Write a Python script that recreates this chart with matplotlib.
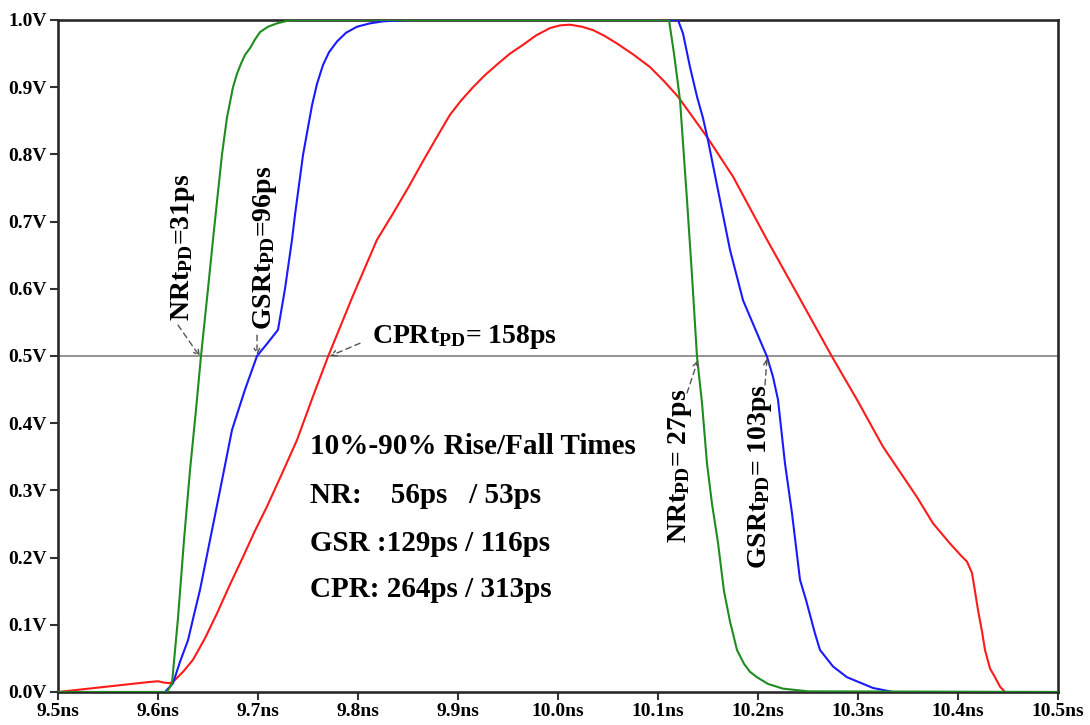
import matplotlib
matplotlib.use("Agg")
import matplotlib.pyplot as plt

plt.rcParams["font.family"] = ["Liberation Serif", "DejaVu Serif"]
plt.rcParams["font.weight"] = "bold"
plt.rcParams["mathtext.fontset"] = "custom"
plt.rcParams["mathtext.rm"] = "Liberation Serif:bold"
plt.rcParams["mathtext.it"] = "Liberation Serif:bold"
plt.rcParams["mathtext.bf"] = "Liberation Serif:bold"
plt.rcParams["mathtext.default"] = "rm"

# NR output (green), time in ns, voltage in V
nr_t = [9.500, 9.609, 9.614, 9.620, 9.626, 9.632, 9.638, 9.643, 9.650, 9.655,
        9.659, 9.664, 9.669, 9.675, 9.679, 9.683, 9.687, 9.692, 9.697, 9.702,
        9.710, 9.719, 9.727, 9.735,
        10.111, 10.116, 10.122, 10.129, 10.134, 10.139, 10.144, 10.149, 10.154,
        10.160, 10.166, 10.172, 10.179, 10.186, 10.192, 10.199, 10.210, 10.225,
        10.250, 10.500]
nr_v = [0.0, 0.0, 0.013, 0.11, 0.226, 0.33, 0.42, 0.50, 0.60, 0.673,
        0.73, 0.80, 0.855, 0.90, 0.92, 0.935, 0.948, 0.958, 0.971, 0.982,
        0.990, 0.995, 0.998, 1.0,
        1.0, 0.95, 0.881, 0.732, 0.62, 0.499, 0.43, 0.34, 0.28,
        0.222, 0.15, 0.105, 0.0625, 0.042, 0.030, 0.022, 0.012, 0.005,
        0.001, 0.0]

# GSR output (blue)
gsr_t = [9.500, 9.607, 9.615, 9.622, 9.630, 9.636, 9.642, 9.652, 9.662, 9.674,
         9.687, 9.699, 9.710, 9.720, 9.727, 9.734, 9.737, 9.745, 9.754, 9.759,
         9.765, 9.771, 9.779, 9.788, 9.799, 9.812, 9.825, 9.849,
         10.120, 10.125, 10.132, 10.139, 10.145, 10.150, 10.162, 10.172, 10.185,
         10.199, 10.209, 10.215, 10.220, 10.227, 10.234, 10.242, 10.248, 10.257,
         10.262, 10.275, 10.289, 10.315, 10.335, 10.500]
gsr_v = [0.0, 0.0, 0.013, 0.045, 0.077, 0.115, 0.152, 0.226, 0.30, 0.39,
         0.45, 0.50, 0.52, 0.539, 0.60, 0.673, 0.71, 0.799, 0.873, 0.905,
         0.933, 0.952, 0.968, 0.981, 0.99, 0.995, 0.998, 1.0,
         1.0, 0.98, 0.93, 0.886, 0.854, 0.821, 0.732, 0.658, 0.583,
         0.534, 0.499, 0.469, 0.435, 0.34, 0.266, 0.167, 0.137, 0.087,
         0.0625, 0.038, 0.022, 0.006, 0.0, 0.0]

# CPR output (red)
cpr_t = [9.500, 9.592, 9.600, 9.606, 9.612, 9.617, 9.625, 9.635, 9.647, 9.659,
         9.672, 9.685, 9.697, 9.709, 9.724, 9.739, 9.755, 9.770, 9.795, 9.819,
         9.835, 9.850, 9.865, 9.877, 9.892, 9.903, 9.915, 9.927, 9.940, 9.952,
         9.965, 9.978, 9.992, 10.002, 10.012, 10.024, 10.035, 10.047, 10.059,
         10.075, 10.092, 10.106, 10.120, 10.149, 10.175, 10.209, 10.239, 10.274,
         10.299, 10.325, 10.359, 10.375, 10.392, 10.403, 10.409, 10.414, 10.417,
         10.420, 10.424, 10.427, 10.432, 10.437, 10.442, 10.447]
cpr_v = [0.0, 0.015, 0.016, 0.014, 0.013, 0.018, 0.030, 0.048, 0.080, 0.117,
         0.160, 0.201, 0.240, 0.276, 0.325, 0.375, 0.440, 0.499, 0.590, 0.673,
         0.712, 0.750, 0.790, 0.821, 0.859, 0.880, 0.900, 0.918, 0.935, 0.950,
         0.963, 0.977, 0.988, 0.992, 0.993, 0.990, 0.985, 0.976, 0.965,
         0.949, 0.930, 0.909, 0.886, 0.826, 0.767, 0.673, 0.593, 0.499,
         0.435, 0.365, 0.290, 0.251, 0.221, 0.203, 0.194, 0.177, 0.150,
         0.122, 0.090, 0.0625, 0.035, 0.022, 0.008, 0.0]

x_ticks = [9.5, 9.6, 9.7, 9.8, 9.9, 10.0, 10.1, 10.2, 10.3, 10.4, 10.5]
y_ticks = [0.0, 0.1, 0.2, 0.3, 0.4, 0.5, 0.6, 0.7, 0.8, 0.9, 1.0]

summary_lines = ["10%-90% Rise/Fall Times",
                 "NR:    56ps   / 53ps",
                 "GSR :129ps / 116ps",
                 "CPR: 264ps / 313ps"]

fig = plt.figure(figsize=(10.9, 7.25), dpi=100)
ax = fig.add_axes([58 / 1090, 33 / 725, 1000 / 1090, 672 / 725])

ax.axhline(0.5, color="#8a8a8a", lw=1.3, zorder=1)
ax.plot(cpr_t, cpr_v, color="#ff1a1a", lw=1.5, zorder=3)
ax.plot(gsr_t, gsr_v, color="#1a1aff", lw=1.5, zorder=4)
ax.plot(nr_t, nr_v, color="#1e8c1e", lw=1.5, zorder=5)

ax.set_xlim(9.5, 10.5)
ax.set_ylim(0.0, 1.0)
ax.set_xticks(x_ticks)
ax.set_xticklabels([f"{v:.1f}ns" for v in x_ticks])
ax.set_yticks(y_ticks)
ax.set_yticklabels([f"{v:.1f}V" for v in y_ticks])
ax.tick_params(direction="out", length=6, width=1.5, color="#333333",
               labelsize=14, pad=2)
for lab in ax.get_xticklabels() + ax.get_yticklabels():
    lab.set_fontweight("bold")
for sp in ax.spines.values():
    sp.set_linewidth(1.9)
    sp.set_color("#2a2a2a")

# propagation delay labels
lbl = dict(fontsize=20, fontweight="bold", color="black", zorder=6)
ax.text(9.625, 0.661, "NRt$_{PD}$=31ps", rotation=90, ha="center", va="center", **lbl)
ax.text(9.707, 0.661, "GSRt$_{PD}$=96ps", rotation=90, ha="center", va="center", **lbl)
ax.text(9.814, 0.528, "CPRt$_{PD}$= 158ps", ha="left", va="center", **lbl)
ax.text(10.122, 0.336, "NRt$_{PD}$= 27ps", rotation=90, ha="center", va="center", **lbl)
ax.text(10.202, 0.321, "GSRt$_{PD}$= 103ps", rotation=90, ha="center", va="center", **lbl)

arrow = dict(arrowstyle="->", linestyle=(0, (4, 3)), color="#555555", lw=1.0,
             shrinkA=0, shrinkB=0)
for tail, head in [((9.620, 0.546), (9.642, 0.499)),
                   ((9.699, 0.531), (9.699, 0.501)),
                   ((9.802, 0.519), (9.772, 0.500)),
                   ((10.129, 0.445), (10.140, 0.494)),
                   ((10.207, 0.457), (10.209, 0.497))]:
    ax.annotate("", xy=head, xytext=tail, arrowprops=arrow, zorder=6)

summary = dict(lbl, fontsize=21)
for line, yv in zip(summary_lines, [0.3646, 0.293, 0.2217, 0.152]):
    ax.text(9.752, yv, line, ha="left", va="center", **summary)

fig.savefig("out.png", dpi=100)
